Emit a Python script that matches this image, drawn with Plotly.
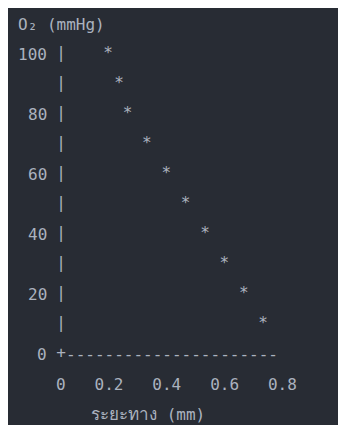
import plotly.graph_objects as go

# Oxygen partial pressure (mmHg) against diffusion distance (mm)
distance_mm = [0.17, 0.21, 0.24, 0.31, 0.38, 0.45, 0.52, 0.59, 0.66, 0.73]
o2_mmhg = [100, 90, 80, 70, 60, 50, 40, 30, 20, 10]

# axis text
y_tick_vals = [100, 80, 60, 40, 20]
y_rule_rows = [100, 90, 80, 70, 60, 50, 40, 30, 20, 10]
x_tick_labels = ["0", "0.2", "0.4", "0.6", "0.8"]
y_title = "O₂ (mmHg)"
x_title_word = "ระยะทาง"
x_title_unit = "(mm)"

# terminal-like styling
MONO = "DejaVu Sans Mono, Liberation Mono, monospace"
FS = 16
CH = 0.602 * FS          # width of one monospace cell in px
ROW = 10                 # y units per text row
BG = "#282c34"
FG = "#abb2bf"
NB = "\u00a0"

W, H = 338, 425
ML, MT = 8, 8

fig = go.Figure()

# vertical rule drawn as a column of bars, one per row
fig.add_trace(go.Scatter(
    x=[0] * len(y_rule_rows), y=y_rule_rows, mode="text",
    text=["|"] * len(y_rule_rows), textposition="middle center",
    textfont=dict(family=MONO, size=FS, color=FG),
    hoverinfo="skip", showlegend=False))

# origin corner
fig.add_trace(go.Scatter(
    x=[0], y=[0], mode="text", text=["+"], textposition="middle center",
    textfont=dict(family=MONO, size=FS, color=FG),
    hoverinfo="skip", showlegend=False))

# data points
fig.add_trace(go.Scatter(
    x=distance_mm, y=o2_mmhg, mode="text",
    text=["*"] * len(o2_mmhg), textposition="middle center",
    textfont=dict(family=MONO, size=FS, color=FG),
    hovertemplate="%{x} mm<br>%{y} mmHg<extra></extra>", showlegend=False))

annotations = []
txt = dict(family=MONO, size=FS, color=FG)
common = dict(xref="x", yref="y", showarrow=False, borderpad=0, borderwidth=0,
              font=txt, yanchor="middle")

# y tick labels, right aligned one blank cell left of the rule
for v in y_tick_vals:
    annotations.append(dict(common, x=0, y=v, text=str(v), xanchor="right",
                            xshift=-1.5 * CH))
annotations.append(dict(common, x=0, y=0, text="0", xanchor="right",
                        xshift=-1.5 * CH))

# horizontal rule
annotations.append(dict(common, x=0, y=0, text="-" * 22, xanchor="left",
                        xshift=0.5 * CH))

# x tick label row
annotations.append(dict(common, x=0, y=-ROW, text=(NB * 3).join(x_tick_labels),
                        xanchor="left", xshift=-0.5 * CH))

# axis titles
annotations.append(dict(common, x=0, y=100 + ROW, text=y_title.replace(" ", NB),
                        xanchor="left", xshift=-4.5 * CH))
annotations.append(dict(
    common, x=0, y=-2 * ROW,
    text=f"<span style='font-size:17px'>{x_title_word}</span>{NB}{x_title_unit}",
    xanchor="right", xshift=15 * CH))

# axis ranges chosen so one text row is 30 px and 0.8 mm sits 23 cells right of 0
px_per_mm = 23 * CH / 0.8
x0_px = 61 - ML
plot_w = W - ML
plot_h = H - MT
y100_px = 54 - MT
px_per_unit_y = 3.0

fig.update_layout(
    width=W, height=H,
    margin=dict(l=ML, t=MT, r=0, b=0, pad=0),
    paper_bgcolor="white", plot_bgcolor=BG,
    xaxis=dict(visible=False, range=[-x0_px / px_per_mm, (plot_w - x0_px) / px_per_mm]),
    yaxis=dict(visible=False, range=[100 - (plot_h - y100_px) / px_per_unit_y,
                                     100 + y100_px / px_per_unit_y]),
    annotations=annotations,
)

fig.write_html("out.html")
